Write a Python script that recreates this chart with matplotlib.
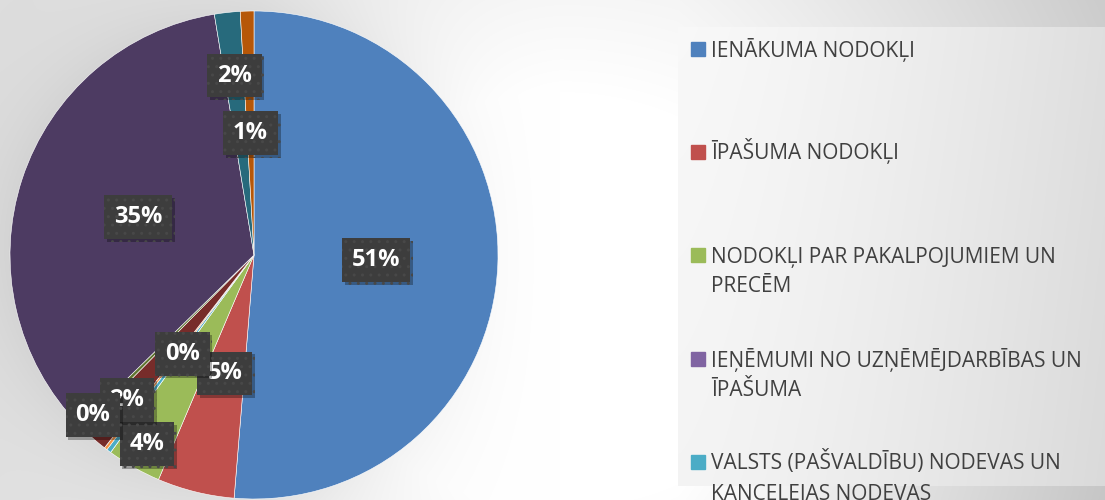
import numpy as np
import matplotlib.pyplot as plt
import matplotlib.patheffects as pe
from matplotlib.patches import Rectangle

# share of each revenue group, % (clockwise from 12 o'clock)
shares = [51.3, 5.1, 3.6, 0.0, 0.3, 0.2, 0.0, 1.9, 0.3, 34.7, 1.7, 0.9]
slice_colors = ['#4F81BD', '#C0504D', '#9BBB59', '#8064A2', '#4BACC6', '#F79646',
                '#2C4D75', '#772C2A', '#5F7530', '#4D3B62', '#276A7C', '#B65708']
# only the first five legend entries fit in the picture
legend_labels = ['IENĀKUMA NODOKĻI',
                 'ĪPAŠUMA NODOKĻI',
                 'NODOKĻI PAR PAKALPOJUMIEM UN\nPRECĒM',
                 'IEŅĒMUMI NO UZŅĒMĒJDARBĪBAS UN\nĪPAŠUMA',
                 'VALSTS (PAŠVALDĪBU) NODEVAS UN\nKANCELEJAS NODEVAS']
# radial position of each data label (None = hidden behind another label)
label_dist = [0.5, 0.5, 0.89, 0.5, None, None, None, 0.79, 0.93, 0.5, 0.74, 0.5]

W, H = 1105, 500
plt.rcParams['font.family'] = ['Open Sans', 'DejaVu Sans']
fig = plt.figure(figsize=(W / 100, H / 100), dpi=100)

# background: soft radial gradient + shadow around the pie + legend panel
yy, xx = np.mgrid[0:H, 0:W].astype(float)
d = np.hypot(xx - 560, (yy - 300) * 1.2)
bg = 1 - 0.12 * np.clip((d - 250) / 400, 0, 1)
dp = np.hypot(xx - 254, yy - 255) - 244
halo = 0.08 * np.exp(-np.clip(dp, 0, None) / 60) * np.clip((560 - xx) / 300, 0, 1)
bg = bg - halo
top_strip = (yy < 27) & (xx > 678)
bg[top_strip] -= 0.08 * np.clip((xx[top_strip] - 678) / 427, 0, 1)
bot_strip = (yy > 485) & (xx > 678)
bg[bot_strip] -= 0.12 * np.clip((xx[bot_strip] - 678) / 427, 0, 1)
panel = (xx >= 678) & (yy >= 27) & (yy <= 485)
t = (xx - 678) / 427
bg[panel] = (0.975 - 0.1 * t ** 1.4 - 0.02 * (yy / H))[panel]
img = np.dstack([bg] * 3).clip(0, 1)

bgax = fig.add_axes([0, 0, 1, 1], zorder=-1)
bgax.imshow(img, extent=(0, W, H, 0), aspect='auto')
bgax.set_xlim(0, W)
bgax.set_ylim(H, 0)
bgax.axis('off')

# legend (the last entry runs off the bottom edge, as in the original)
entry_y = [49, 152, 255, 359, 462]
line_step = 30
for lab, col, y in zip(legend_labels, slice_colors[:5], entry_y):
    bgax.add_patch(Rectangle((691, y - 7), 14, 14, color=col))
    for k, line in enumerate(lab.split('\n')):
        bgax.text(711, y + 7.5 + k * line_step, line, fontsize=15, color='#404040',
                  va='baseline', ha='left')

# pie
R = 244
cx, cy = 254, 255
ax = fig.add_axes([(cx - R) / W, (H - cy - R) / H, 2 * R / W, 2 * R / H])
ax.patch.set_visible(False)
wedges, _ = ax.pie(shares, colors=slice_colors, startangle=90, counterclock=False,
                   radius=1, wedgeprops=dict(edgecolor='white', linewidth=0.4))
ax.set_xlim(-1, 1)
ax.set_ylim(-1, 1)
ax.set_aspect('equal')
ax.axis('off')

plt.rcParams['hatch.linewidth'] = 1.0
total = sum(shares)
for i, (w, v, r) in enumerate(zip(wedges, shares, label_dist)):
    if r is None:
        continue
    ang = np.deg2rad((w.theta1 + w.theta2) / 2)
    txt = ax.text(r * np.cos(ang), r * np.sin(ang), f'{v / total * 100:.0f}%',
                  ha='center', va='center', fontsize=17, fontweight='bold',
                  color='white', zorder=5 + i,
                  bbox=dict(boxstyle='square,pad=0.42', facecolor='#3d3d3d',
                            edgecolor='#484848', linewidth=0, hatch='..'))
    txt.get_bbox_patch().set_path_effects(
        [pe.SimplePatchShadow(offset=(2, -2), shadow_rgbFace='black', alpha=0.3),
         pe.Normal()])

fig.savefig('out.png', dpi=100)
